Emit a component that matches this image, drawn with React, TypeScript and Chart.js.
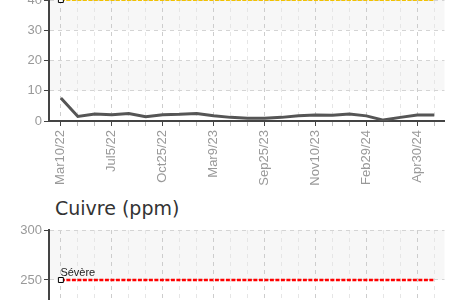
import React, { useEffect, useRef } from 'react';
import { Chart, registerables } from 'chart.js';
Chart.register(...registerables);

const FONT = '"Liberation Sans", Arial, sans-serif';

const dates = ['Mar10/22', '', '', 'Jul5/22', '', '', 'Oct25/22', '', '', 'Mar9/23', '', '', 'Sep25/23', '', '', 'Nov10/23', '', '', 'Feb29/24', '', '', 'Apr30/24', ''];
const topValues = [7.6, 1.5, 2.3, 2.1, 2.5, 1.4, 2.1, 2.2, 2.5, 1.7, 1.2, 0.9, 0.9, 1.2, 1.7, 2.0, 1.9, 2.3, 1.7, 0.3, 1.2, 2.0, 2.0];
const topThreshold = 40;
const topYTicks = [0, 10, 20, 30, 40];
const copperTitle = 'Cuivre (ppm)';
const copperThreshold = 250;
const copperThresholdLabel = 'Sévère';
const copperYTicks = [0, 50, 100, 150, 200, 250, 300];

const bandsPlugin = {
  id: 'bands',
  beforeDraw(chart: any) {
    const { ctx, chartArea, scales } = chart;
    const y = scales.y;
    const ticks = y.ticks.map((t: any) => t.value).sort((a: number, b: number) => a - b);
    ctx.save();
    ctx.fillStyle = '#f7f7f7';
    for (let i = 0; i < ticks.length - 1; i++) {
      if (i % 2 === 1) {
        const yTop = y.getPixelForValue(ticks[i + 1]);
        const yBot = y.getPixelForValue(ticks[i]);
        ctx.fillRect(chartArea.left, yTop, chartArea.right - chartArea.left, yBot - yTop);
      }
    }
    ctx.restore();
  },
};

const labelPlugin = {
  id: 'thrLabel',
  afterDatasetsDraw(chart: any, _args: any, opts: any) {
    if (!opts || !opts.text) return;
    const meta = chart.getDatasetMeta(opts.dataset);
    const pt = meta.data[0];
    if (!pt) return;
    const { ctx } = chart;
    ctx.save();
    ctx.font = `11px ${FONT}`;
    ctx.fillStyle = '#222';
    ctx.textAlign = 'left';
    ctx.textBaseline = 'alphabetic';
    ctx.fillText(opts.text, pt.x - 0.5, pt.y - 4);
    ctx.restore();
  },
};

function makeChart(canvas: HTMLCanvasElement, datasets: any[], yTicks: number[], label: string | null) {
  const idx = dates.map((_, i) => i);
  return new Chart(canvas, {
    type: 'line',
    data: { datasets },
    plugins: [bandsPlugin, labelPlugin],
    options: {
      animation: false,
      responsive: false,
      layout: { padding: { top: 20, right: 1, left: 0, bottom: 0 } },
      plugins: {
        legend: { display: false },
        tooltip: { enabled: false },
        thrLabel: label ? { text: label, dataset: datasets.length - 1 } : {},
      } as any,
      scales: {
        x: {
          type: 'linear',
          min: -0.7,
          max: 22.6,
          afterBuildTicks: (s: any) => { s.ticks = idx.map((v) => ({ value: v })); },
          afterFit: (s: any) => { s.height = 70; },
          ticks: {
            autoSkip: false,
            minRotation: 90,
            maxRotation: 90,
            padding: 4,
            color: '#999',
            font: { family: FONT, size: 13 },
            callback: (v: any) => dates[v] ?? '',
          },
          grid: {
            color: (c: any) => (c.tick && c.tick.value % 3 === 0 ? '#cdcdcd' : '#e6e6e6'),
            tickColor: (c: any) => (c.tick && c.tick.value % 3 === 0 ? '#444' : '#bbb'),
            tickLength: 5,
          },
          border: { color: '#444', width: 2, dash: [4, 4] },
        },
        y: {
          min: yTicks[0],
          max: yTicks[yTicks.length - 1],
          afterBuildTicks: (s: any) => { s.ticks = yTicks.map((v) => ({ value: v })); },
          afterFit: (s: any) => { s.width = 49; },
          ticks: { color: '#999', font: { family: FONT, size: 13 }, padding: 2 },
          grid: { color: '#d4d4d4', tickColor: '#444', tickLength: 5 },
          border: { color: '#444', width: 2, dash: [4, 4] },
        },
      },
    } as any,
  });
}

export default function App() {
  const ref1 = useRef<HTMLCanvasElement>(null);
  const ref2 = useRef<HTMLCanvasElement>(null);
  useEffect(() => {
    const pts = (vals: number[]) => vals.map((v, i) => ({ x: i, y: v }));
    const thr = (v: number) => dates.map((_, i) => ({ x: i, y: v }));
    const markerRadius = (c: any) => (c.dataIndex === 0 ? 3.5 : 0);
    const c1 = makeChart(ref1.current!, [
      { data: pts(topValues), borderColor: '#555', borderWidth: 3, pointRadius: 0, tension: 0 },
      {
        data: thr(topThreshold), borderColor: '#f2c200', borderWidth: 2, borderDash: [4, 1.5],
        pointRadius: markerRadius, pointStyle: 'rect', pointBackgroundColor: '#fff', pointBorderColor: '#000', pointBorderWidth: 1,
      },
    ], topYTicks, null);
    const c2 = makeChart(ref2.current!, [
      {
        data: thr(copperThreshold), borderColor: '#ff0000', borderWidth: 2.5, borderDash: [4, 1.5],
        pointRadius: markerRadius, pointStyle: 'rect', pointBackgroundColor: '#fff', pointBorderColor: '#000', pointBorderWidth: 1,
      },
    ], copperYTicks, copperThresholdLabel);
    return () => { c1.destroy(); c2.destroy(); };
  }, []);
  return (
    <div style={{ position: 'fixed', left: 0, top: 0, width: 454, height: 300, overflow: 'hidden', background: '#fff' }}>
      <canvas ref={ref1} width={454} height={211} style={{ position: 'absolute', left: 0, top: -20, width: 454, height: 211 }} />
      <div style={{ position: 'absolute', left: 55, top: 199, font: '19px "DejaVu Sans", sans-serif', lineHeight: '19px', color: '#333', whiteSpace: 'nowrap' }}>{copperTitle}</div>
      <canvas ref={ref2} width={454} height={390} style={{ position: 'absolute', left: 0, top: 210, width: 454, height: 390 }} />
    </div>
  );
}
